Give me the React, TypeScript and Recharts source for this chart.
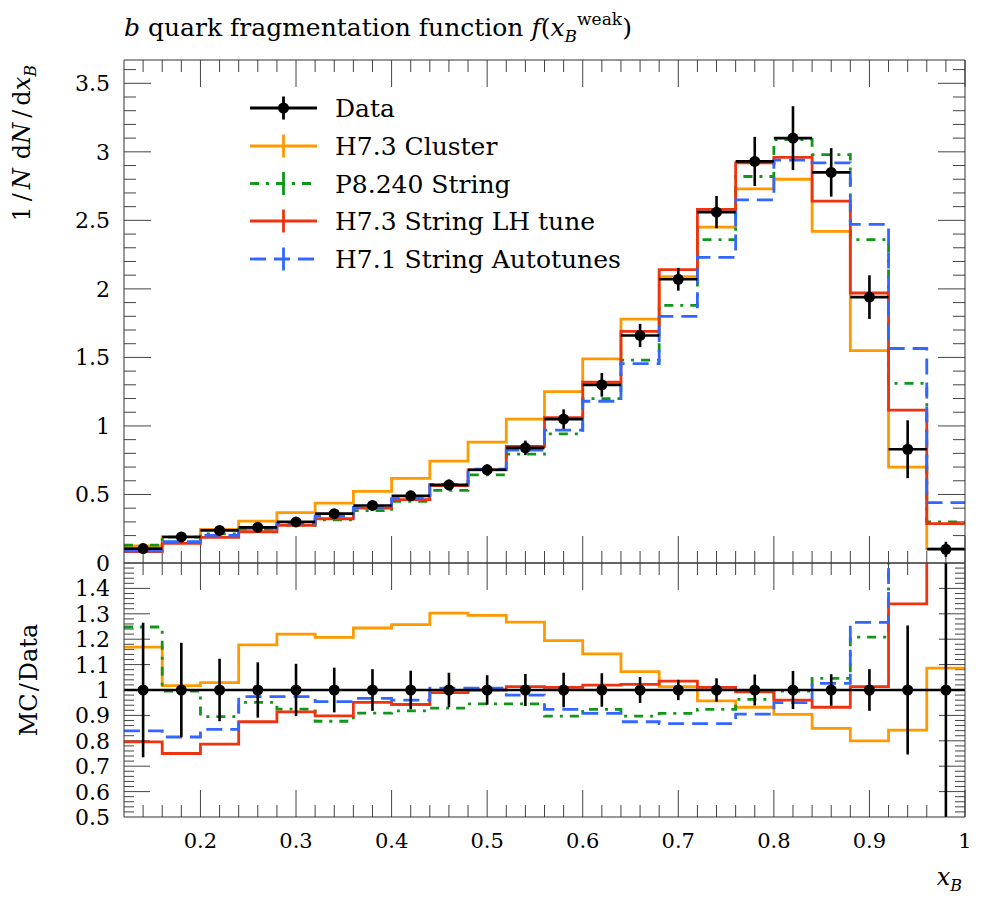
import React from 'react';
import { ComposedChart, Line, Scatter, XAxis, YAxis, ErrorBar, ReferenceLine } from 'recharts';

const FONT = '"DejaVu Serif", "Liberation Serif", serif';

// ---------- data ----------
const binEdges = [0.12, 0.16, 0.2, 0.24, 0.28, 0.32, 0.36, 0.4, 0.44, 0.48, 0.52, 0.56, 0.6, 0.64, 0.68, 0.72, 0.76, 0.8, 0.84, 0.88, 0.92, 0.96, 1.0];
const binCenters = [0.14, 0.18, 0.22, 0.26, 0.3, 0.34, 0.38, 0.42, 0.46, 0.5, 0.54, 0.58, 0.62, 0.66, 0.7, 0.74, 0.78, 0.82, 0.86, 0.9, 0.94, 0.98];
const binHalfWidth = 0.02;

const dataValues = [0.105, 0.19, 0.238, 0.26, 0.3, 0.36, 0.42, 0.49, 0.57, 0.68, 0.84, 1.05, 1.3, 1.66, 2.07, 2.56, 2.93, 3.1, 2.85, 1.94, 0.83, 0.1];
const dataErrors = [0.028, 0.035, 0.029, 0.028, 0.031, 0.032, 0.034, 0.037, 0.039, 0.039, 0.053, 0.071, 0.086, 0.085, 0.083, 0.118, 0.179, 0.233, 0.177, 0.159, 0.211, 0.055];

const clusterValues = [0.125, 0.193, 0.245, 0.305, 0.367, 0.437, 0.522, 0.618, 0.744, 0.882, 1.05, 1.25, 1.49, 1.78, 2.09, 2.45, 2.73, 2.8, 2.42, 1.55, 0.7, 0.107];
const pythiaValues = [0.131, 0.189, 0.213, 0.247, 0.276, 0.314, 0.382, 0.45, 0.53, 0.643, 0.794, 0.942, 1.2, 1.48, 1.88, 2.36, 2.82, 3.09, 2.98, 2.36, 1.31, 0.3];
const lhTuneValues = [0.084, 0.143, 0.187, 0.228, 0.274, 0.323, 0.4, 0.462, 0.564, 0.68, 0.851, 1.06, 1.32, 1.69, 2.14, 2.58, 2.92, 2.96, 2.64, 1.97, 1.115, 0.287];
const autotuneValues = [0.088, 0.155, 0.201, 0.253, 0.292, 0.343, 0.406, 0.47, 0.574, 0.685, 0.823, 0.97, 1.18, 1.455, 1.8, 2.23, 2.65, 2.94, 2.92, 2.47, 1.565, 0.44];

const dataRatio = [1, 1, 1, 1, 1, 1, 1, 1, 1, 1, 1, 1, 1, 1, 1, 1, 1, 1, 1, 1, 1, 1];
const dataRatioErrors = [0.265, 0.186, 0.123, 0.109, 0.103, 0.088, 0.082, 0.076, 0.068, 0.058, 0.063, 0.068, 0.066, 0.051, 0.04, 0.046, 0.061, 0.075, 0.062, 0.082, 0.254, 0.55];
const clusterRatio = [1.169, 1.017, 1.029, 1.178, 1.22, 1.207, 1.244, 1.257, 1.303, 1.294, 1.267, 1.194, 1.142, 1.072, 1.013, 0.957, 0.932, 0.904, 0.849, 0.8, 0.842, 1.086];
const pythiaRatio = [1.248, 0.996, 0.895, 0.951, 0.925, 0.877, 0.909, 0.918, 0.929, 0.945, 0.945, 0.897, 0.924, 0.897, 0.908, 0.924, 0.963, 0.996, 1.046, 1.208, 1.58, 3.0];
const lhTuneRatio = [0.796, 0.75, 0.787, 0.875, 0.914, 0.898, 0.951, 0.943, 0.99, 1.0, 1.013, 1.01, 1.019, 1.022, 1.035, 1.01, 0.993, 0.96, 0.932, 1.013, 1.339, 2.87];
const autotuneRatio = [0.839, 0.815, 0.845, 0.974, 0.974, 0.954, 0.967, 0.96, 1.007, 1.007, 0.98, 0.924, 0.908, 0.875, 0.868, 0.868, 0.905, 0.95, 1.026, 1.266, 1.89, 4.4];

const seriesKeys = ['cluster', 'pythia', 'lhTune', 'autotune'];
const seriesNames = ['H7.3 Cluster', 'P8.240 String', 'H7.3 String LH tune', 'H7.1 String Autotunes'];
const seriesColors = ['#FF9900', '#109618', '#EE3311', '#3366FF'];
const seriesDash = ['', '9 7 3 7', '', '16 8'];
const dataName = 'Data';

// ---------- ticks ----------
const xMajorTicks = [0.2, 0.3, 0.4, 0.5, 0.6, 0.7, 0.8, 0.9, 1.0];
const xTickLabels = ['0.2', '0.3', '0.4', '0.5', '0.6', '0.7', '0.8', '0.9', '1'];
const topYMajorTicks = [0, 0.5, 1, 1.5, 2, 2.5, 3, 3.5];
const topYTickLabels = ['0', '0.5', '1', '1.5', '2', '2.5', '3', '3.5'];
const ratioYMajorTicks = [0.5, 0.6, 0.7, 0.8, 0.9, 1.0, 1.1, 1.2, 1.3, 1.4, 1.5];
const ratioYTickLabels = ['0.5', '0.6', '0.7', '0.8', '0.9', '1', '1.1', '1.2', '1.3', '1.4'];

const range = (a: number, b: number, step: number) => {
  const out: number[] = [];
  for (let i = 0; a + i * step <= b + 1e-9; i++) out.push(+(a + i * step).toFixed(4));
  return out;
};
const xTicks = range(0.14, 1.0, 0.02);
const topYTicks = range(0.1, 3.6, 0.1);
const ratioYTicks = range(0.52, 1.48, 0.02);

// layout (pixels)
const X_DOMAIN: [number, number] = [0.12, 1.0];
const TOP_DOMAIN: [number, number] = [0, 3.67];
const RATIO_DOMAIN: [number, number] = [0.5, 1.5];
const PLOT_W = 841;
const TOP_H = 503;
const RATIO_H = 254;

const isMajor = (v: number, majors: number[]) => majors.some((m) => Math.abs(m - v) < 1e-6);

type Seg = { key: string; segment: { x: number; y: number }[] };
const buildTickSegments = (
  yDomain: [number, number], plotH: number, yTicks: number[], yMajors: number[],
  xMaj: number, xMin: number, yMaj: number, yMin: number,
): Seg[] => {
  const ux = (X_DOMAIN[1] - X_DOMAIN[0]) / PLOT_W;
  const uy = (yDomain[1] - yDomain[0]) / plotH;
  const segs: Seg[] = [];
  xTicks.forEach((v) => {
    const len = (isMajor(v, xMajorTicks) ? xMaj : xMin) * uy;
    segs.push({ key: `xb${v}`, segment: [{ x: v, y: yDomain[0] }, { x: v, y: yDomain[0] + len }] });
    segs.push({ key: `xt${v}`, segment: [{ x: v, y: yDomain[1] }, { x: v, y: yDomain[1] - len }] });
  });
  yTicks.forEach((v) => {
    const len = (isMajor(v, yMajors) ? yMaj : yMin) * ux;
    segs.push({ key: `yl${v}`, segment: [{ x: X_DOMAIN[0], y: v }, { x: X_DOMAIN[0] + len, y: v }] });
    segs.push({ key: `yr${v}`, segment: [{ x: X_DOMAIN[1], y: v }, { x: X_DOMAIN[1] - len, y: v }] });
  });
  return segs;
};

const leftLabel = (majors: number[], labels: string[]) => (props: any) => {
  const { x, y, payload } = props;
  const i = majors.findIndex((m) => Math.abs(m - payload.value) < 1e-6);
  if (i < 0 || i >= labels.length) return <g />;
  return <text x={x - 14} y={y + 8} textAnchor="end" fontSize={22} fontFamily={FONT} fill="#000">{labels[i]}</text>;
};
const bottomLabel = (majors: number[], labels: string[]) => (props: any) => {
  const { x, y, payload } = props;
  const i = majors.findIndex((m) => Math.abs(m - payload.value) < 1e-6);
  if (i < 0 || i >= labels.length) return <g />;
  return <text x={x} y={y + 31} textAnchor="middle" fontSize={21} fontFamily={FONT} fill="#000">{labels[i]}</text>;
};

const Marker = (p: any) => <circle cx={p.cx} cy={p.cy} r={5.5} fill="#000" />;

export default function App() {
  const topRows = binEdges.map((x, i) => {
    const k = Math.min(i, binCenters.length - 1);
    return { x, cluster: clusterValues[k], pythia: pythiaValues[k], lhTune: lhTuneValues[k], autotune: autotuneValues[k] };
  });
  const ratioRows = binEdges.map((x, i) => {
    const k = Math.min(i, binCenters.length - 1);
    return { x, data: dataRatio[k], cluster: clusterRatio[k], pythia: pythiaRatio[k], lhTune: lhTuneRatio[k], autotune: autotuneRatio[k] };
  });
  const topPoints = binCenters.map((x, i) => ({ x, y: dataValues[i], ey: dataErrors[i], ex: binHalfWidth }));
  // error bars limited to the visible ratio window (the frame clips them in the original)
  const ratioPoints = binCenters.map((x, i) => ({
    x,
    y: dataRatio[i],
    ey: [Math.min(dataRatioErrors[i], dataRatio[i] - RATIO_DOMAIN[0]), Math.min(dataRatioErrors[i], RATIO_DOMAIN[1] - dataRatio[i])],
  }));

  const topSegs = buildTickSegments(TOP_DOMAIN, TOP_H, topYTicks, topYMajorTicks, 27, 12, 27, 12);
  const ratioSegs = buildTickSegments(RATIO_DOMAIN, RATIO_H, ratioYTicks, ratioYMajorTicks, 27, 12, 26, 10);

  const legendRows = [
    { name: dataName, color: '#000', dash: '', dot: true },
    ...seriesNames.map((n, i) => ({ name: n, color: seriesColors[i], dash: seriesDash[i], dot: false })),
  ];
  const legendY = [108, 146, 183.5, 221, 259];

  const axisLine = { stroke: '#333', strokeWidth: 1 };

  return (
    <div style={{ position: 'absolute', left: 0, top: 0, width: 996, height: 900, background: '#fff' }}>
      <div style={{ position: 'absolute', left: 0, top: 0 }}>
        <ComposedChart width={996} height={580} data={topRows} margin={{ top: 0, right: 0, bottom: 0, left: 0 }}>
          <XAxis xAxisId="xb" dataKey="x" type="number" domain={X_DOMAIN} allowDataOverflow orientation="bottom" height={17}
            tick={false} tickLine={false} axisLine={axisLine} />
          <XAxis xAxisId="xt" dataKey="x" type="number" domain={X_DOMAIN} allowDataOverflow orientation="top" height={60}
            tick={false} tickLine={false} axisLine={axisLine} />
          <YAxis yAxisId="yl" type="number" domain={TOP_DOMAIN} allowDataOverflow orientation="left" width={124}
            ticks={topYMajorTicks} interval={0} tickSize={0} tickMargin={0} tickLine={false} axisLine={axisLine}
            tick={leftLabel(topYMajorTicks, topYTickLabels)} />
          <YAxis yAxisId="yr" dataKey="cluster" type="number" domain={TOP_DOMAIN} allowDataOverflow orientation="right" width={31}
            tick={false} tickLine={false} axisLine={axisLine} />
          {topSegs.map((s) => (
            <ReferenceLine key={s.key} xAxisId="xb" yAxisId="yl" segment={s.segment} stroke="#444" strokeWidth={1} ifOverflow="visible" />
          ))}
          {seriesKeys.map((k, i) => (
            <Line key={k} xAxisId="xb" yAxisId="yl" type="stepAfter" dataKey={k} name={seriesNames[i]}
              stroke={seriesColors[i]} strokeWidth={2.8} strokeDasharray={seriesDash[i] || undefined}
              dot={false} activeDot={false} isAnimationActive={false} />
          ))}
          <Scatter xAxisId="xb" yAxisId="yl" data={topPoints} dataKey="y" name={dataName} shape={Marker} isAnimationActive={false}>
            <ErrorBar dataKey="ex" direction="x" width={0} stroke="#000" strokeWidth={2.6} isAnimationActive={false} />
            <ErrorBar dataKey="ey" direction="y" width={0} stroke="#000" strokeWidth={2.6} isAnimationActive={false} />
          </Scatter>
        </ComposedChart>
      </div>

      <div style={{ position: 'absolute', left: 0, top: 553 }}>
        <ComposedChart width={996} height={347} data={ratioRows} margin={{ top: 0, right: 0, bottom: 0, left: 0 }}>
          <XAxis xAxisId="xb" dataKey="x" type="number" domain={X_DOMAIN} allowDataOverflow orientation="bottom" height={83}
            ticks={xMajorTicks} interval={0} tickSize={0} tickMargin={0} tickLine={false} axisLine={axisLine}
            tick={bottomLabel(xMajorTicks, xTickLabels)} />
          <XAxis xAxisId="xt" dataKey="x" type="number" domain={X_DOMAIN} allowDataOverflow orientation="top" height={10}
            tick={false} tickLine={false} axisLine={axisLine} />
          <YAxis yAxisId="yl" type="number" domain={RATIO_DOMAIN} allowDataOverflow orientation="left" width={124}
            ticks={ratioYMajorTicks} interval={0} tickSize={0} tickMargin={0} tickLine={false} axisLine={axisLine}
            tick={leftLabel(ratioYMajorTicks, ratioYTickLabels)} />
          <YAxis yAxisId="yr" dataKey="data" type="number" domain={RATIO_DOMAIN} allowDataOverflow orientation="right" width={31}
            tick={false} tickLine={false} axisLine={axisLine} />
          {ratioSegs.map((s) => (
            <ReferenceLine key={s.key} xAxisId="xb" yAxisId="yl" segment={s.segment} stroke="#444" strokeWidth={1} ifOverflow="visible" />
          ))}
          {seriesKeys.map((k, i) => (
            <Line key={k} xAxisId="xb" yAxisId="yl" type="stepAfter" dataKey={k} name={seriesNames[i]}
              stroke={seriesColors[i]} strokeWidth={2.8} strokeDasharray={seriesDash[i] || undefined}
              dot={false} activeDot={false} isAnimationActive={false} />
          ))}
          <Line xAxisId="xb" yAxisId="yl" type="stepAfter" dataKey="data" name={dataName} stroke="#000" strokeWidth={2.6}
            dot={false} activeDot={false} isAnimationActive={false} />
          <Scatter xAxisId="xb" yAxisId="yl" data={ratioPoints} dataKey="y" name={dataName} shape={Marker} isAnimationActive={false}>
            <ErrorBar dataKey="ey" direction="y" width={0} stroke="#000" strokeWidth={2.6} isAnimationActive={false} />
          </Scatter>
        </ComposedChart>
      </div>

      <svg width={996} height={900} style={{ position: 'absolute', left: 0, top: 0, pointerEvents: 'none' }}>
        <text x={124} y={36} fontSize={25} fontFamily={FONT} fill="#000">
          <tspan fontStyle="italic">b</tspan>
          <tspan> quark fragmentation function </tspan>
          <tspan fontStyle="italic">f</tspan>
          <tspan>(</tspan>
          <tspan fontStyle="italic">x</tspan>
          <tspan fontStyle="italic" fontSize={17} dy={6}>B</tspan>
          <tspan fontSize={17} dy={-17}>weak</tspan>
          <tspan dy={11}>)</tspan>
        </text>

        <text transform="translate(30,65) rotate(-90)" textAnchor="end" fontSize={24} fontFamily={FONT} fill="#000">
          <tspan>1</tspan>
          <tspan dx={5}>/</tspan>
          <tspan dx={4} fontStyle="italic">N</tspan>
          <tspan dx={9}>d</tspan>
          <tspan fontStyle="italic">N</tspan>
          <tspan dx={5}>/</tspan>
          <tspan dx={4}>d</tspan>
          <tspan fontStyle="italic">x</tspan>
          <tspan fontStyle="italic" fontSize={16} dy={6}>B</tspan>
        </text>

        <text transform="translate(37,680) rotate(-90)" textAnchor="middle" fontSize={24} fontFamily={FONT} fill="#000">
          <tspan>MC</tspan>
          <tspan dx={2}>/</tspan>
          <tspan dx={2}>Data</tspan>
        </text>

        <text x={962} y={885} textAnchor="end" fontSize={24} fontFamily={FONT} fill="#000">
          <tspan fontStyle="italic">x</tspan>
          <tspan fontStyle="italic" fontSize={16} dy={6}>B</tspan>
        </text>

        {legendRows.map((r, i) => (
          <g key={r.name}>
            <line x1={250} x2={317} y1={legendY[i]} y2={legendY[i]} stroke={r.color} strokeWidth={2.8}
              strokeDasharray={r.dash || undefined} />
            <line x1={283.5} x2={283.5} y1={legendY[i] - 11.5} y2={legendY[i] + 11.5} stroke={r.color} strokeWidth={2.8} />
            {r.dot && <circle cx={283.5} cy={legendY[i]} r={5.5} fill="#000" />}
            <text x={335} y={legendY[i] + 9} fontSize={25} fontFamily={FONT} fill="#000">{r.name}</text>
          </g>
        ))}
      </svg>
    </div>
  );
}
